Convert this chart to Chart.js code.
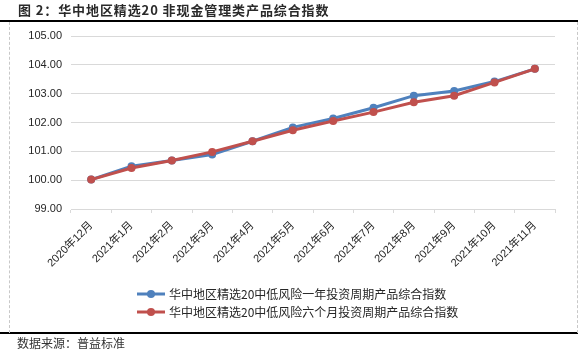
<!DOCTYPE html>
<html><head><meta charset="utf-8">
<script src="https://cdn.jsdelivr.net/npm/chart.js@4"></script>
<style>
html,body{margin:0;padding:0;background:#fff;}
#wrap{position:relative;width:588px;height:356px;overflow:hidden;font-family:"Noto Sans CJK SC",sans-serif;}
#c{position:absolute;left:0;top:0;}
.title{position:absolute;left:18px;top:1px;font-size:13px;font-weight:bold;color:#2a2a2a;white-space:nowrap;line-height:18px;letter-spacing:0.9px;}
.src{position:absolute;left:17px;top:335px;font-size:12px;color:#333;white-space:nowrap;line-height:16px;}
.hl{position:absolute;left:0;width:578px;height:2px;background:#000;}
.vl{position:absolute;top:22px;height:311px;width:0;border-left:1px dashed #c8c8c8;}
</style></head>
<body><div id="wrap">
<canvas id="c" width="588" height="356"></canvas>
<div class="title">图 2：华中地区精选20 非现金管理类产品综合指数</div>
<div class="hl" style="top:20px"></div>
<div class="hl" style="top:332px"></div>
<div class="vl" style="left:9px"></div>
<div class="vl" style="left:577px"></div>
<div class="src">数据来源：普益标准</div>
</div>
<script>
const categories = ["2020年12月","2021年1月","2021年2月","2021年3月","2021年4月","2021年5月","2021年6月","2021年7月","2021年8月","2021年9月","2021年10月","2021年11月"];
const seriesNames = ["华中地区精选20中低风险一年投资周期产品综合指数","华中地区精选20中低风险六个月投资周期产品综合指数"];
const oneYear = [100.02, 100.48, 100.68, 100.89, 101.35, 101.83, 102.14, 102.51, 102.93, 103.09, 103.42, 103.86];
const sixMonth = [100.02, 100.42, 100.68, 100.98, 101.35, 101.73, 102.05, 102.36, 102.70, 102.93, 103.39, 103.86];
const yTicks = [99, 100, 101, 102, 103, 104, 105];
const colors = ["#4F81BD", "#C0504D"];

const legendPlugin = {
  id: 'customLegend',
  afterDraw(chart) {
    const ctx = chart.ctx;
    const rows = [294, 312];
    chart.data.datasets.forEach((ds, i) => {
      const y = rows[i];
      ctx.save();
      ctx.strokeStyle = ds.borderColor;
      ctx.lineWidth = 3;
      ctx.beginPath(); ctx.moveTo(137, y); ctx.lineTo(165, y); ctx.stroke();
      ctx.fillStyle = ds.borderColor;
      ctx.beginPath(); ctx.arc(151, y, 4, 0, Math.PI * 2); ctx.fill();
      ctx.fillStyle = '#262626';
      ctx.font = '12px "Noto Sans CJK SC", sans-serif';
      ctx.textBaseline = 'middle';
      ctx.textAlign = 'left';
      ctx.fillText(ds.label, 169, y);
      ctx.restore();
    });
  }
};

new Chart(document.getElementById('c'), {
  type: 'line',
  data: {
    labels: categories,
    datasets: [
      { label: seriesNames[0], data: oneYear, borderColor: colors[0], backgroundColor: colors[0],
        pointBackgroundColor: colors[0], pointBorderColor: colors[0], borderWidth: 3, pointRadius: 4, pointBorderWidth: 0, order: 1, tension: 0 },
      { label: seriesNames[1], data: sixMonth, borderColor: colors[1], backgroundColor: colors[1],
        pointBackgroundColor: colors[1], pointBorderColor: colors[1], borderWidth: 3, pointRadius: 4, pointBorderWidth: 0, order: 0, tension: 0 }
    ]
  },
  options: {
    responsive: false,
    animation: false,
    devicePixelRatio: 1,
    layout: { padding: { left: 0, top: 36, right: 33, bottom: 77 } },
    plugins: { legend: { display: false }, tooltip: { enabled: false }, title: { display: false } },
    scales: {
      x: {
        offset: true,
        grid: { display: true, offset: true, drawOnChartArea: false, drawTicks: true, tickLength: 4, color: '#d9d9d9' },
        border: { display: true, color: '#d9d9d9', width: 1 },
        ticks: { autoSkip: false, maxRotation: 45, minRotation: 45, padding: 6, color: '#262626',
          font: { family: '"Liberation Sans", "Noto Sans CJK SC", sans-serif', size: 11 } },
        afterFit(s) { s.height = 70; }
      },
      y: {
        min: 99, max: 105,
        afterBuildTicks(s) { s.ticks = yTicks.map(v => ({ value: v })); },
        grid: { color: '#d9d9d9', drawTicks: false, lineWidth: 1 },
        border: { display: false },
        ticks: { padding: 9, color: '#262626', callback: v => Number(v).toFixed(2),
          font: { family: '"Liberation Sans", "Noto Sans CJK SC", sans-serif', size: 11 } },
        afterFit(s) { s.width = 71; }
      }
    }
  },
  plugins: [legendPlugin]
});
</script>
</body></html>
